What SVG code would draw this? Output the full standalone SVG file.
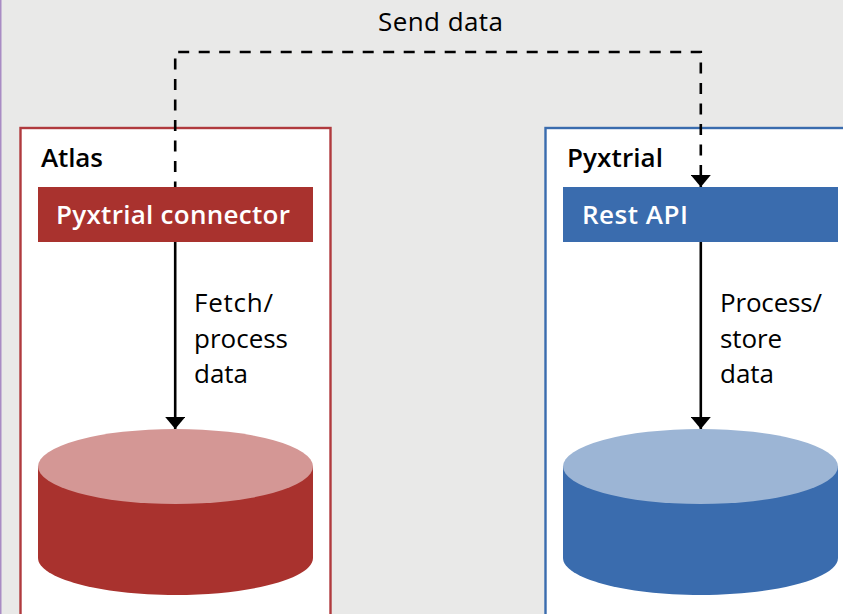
<svg xmlns="http://www.w3.org/2000/svg" width="843" height="614" viewBox="0 0 843 614">
<defs><marker id="ah" markerUnits="userSpaceOnUse" markerWidth="12" markerHeight="20" refX="12" refY="10" orient="auto"><path d="M0 0L12 10L0 20Z" fill="#000"/></marker></defs>
<style>
text{font-family:"Open Sans","Noto Sans","Liberation Sans",sans-serif;font-size:26px;fill:#000}
.b{font-weight:600}.w{fill:#fff}
.c{fill:none;stroke:#000;stroke-width:2.6}
</style>
<rect width="843" height="614" fill="#e9e9e8"/>
<rect x="0" y="0" width="1.5" height="614" fill="#a98cc4"/>
<g id="atlas"><rect x="20.500" y="128" width="310" height="490" fill="#fff" stroke="#b03a3e" stroke-width="2.4"/><text class="b" x="41" y="167" textLength="62">Atlas</text></g>
<g id="pyxtrial"><rect x="545.500" y="128" width="310" height="490" fill="#fff" stroke="#3a6cae" stroke-width="2.4"/><text class="b" x="567" y="167" textLength="96">Pyxtrial</text></g>
<g id="connector"><rect x="38" y="187" width="275" height="55" fill="#a9322e"/><text class="b w" x="56" y="224" textLength="234">Pyxtrial connector</text></g>
<g id="api"><rect x="563" y="187" width="275" height="55" fill="#3a6cae"/><text class="b w" x="582" y="224" textLength="106">Rest API</text></g>
<g id="db1"><path d="M38 466V558C38 578 99 595 175.500 595S313 578 313 558V466Z" fill="#a9322e"/><ellipse cx="175.500" cy="466.500" rx="137.500" ry="37.500" fill="#d49795"/></g>
<g id="db2"><path d="M563 466V558C563 578 624 595 700.500 595S838 578 838 558V466Z" fill="#3a6cae"/><ellipse cx="700.500" cy="466.500" rx="137.500" ry="37.500" fill="#9cb5d5"/></g>
<g id="connectors">
<path class="c" d="M175.200 187V52H700.800V187" stroke-dasharray="11 9.500" stroke-dashoffset="5.500" marker-end="url(#ah)"/>
<path class="c" d="M175.200 242V429" marker-end="url(#ah)"/>
<path class="c" d="M700.800 242V429" marker-end="url(#ah)"/>
</g>
<text x="378" y="31" textLength="125">Send data</text>
<text x="194" y="312" textLength="79">Fetch/</text><text x="194" y="348" textLength="94">process</text><text x="194" y="383" textLength="54">data</text>
<text x="720" y="312" textLength="102">Process/</text><text x="720" y="348" textLength="62">store</text><text x="720" y="383" textLength="54">data</text>
</svg>
